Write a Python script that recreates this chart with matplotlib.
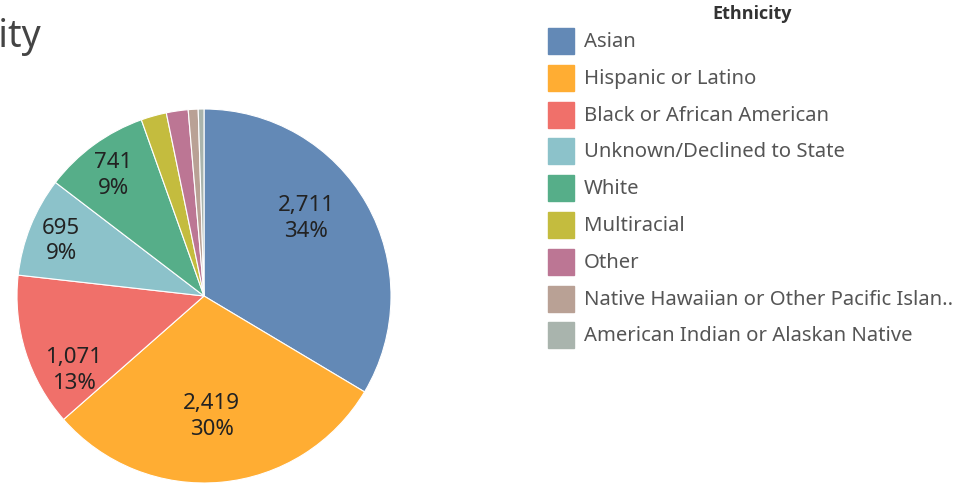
import matplotlib
matplotlib.use('Agg')
import matplotlib.pyplot as plt
import numpy as np

plt.rcParams['font.family'] = ['Noto Sans', 'DejaVu Sans']

# data
ethnicities = ['Asian', 'Hispanic or Latino', 'Black or African American',
               'Unknown/Declined to State', 'White', 'Multiracial', 'Other',
               'Native Hawaiian or Other Pacific Islan..',
               'American Indian or Alaskan Native']
counts = [2711, 2419, 1071, 695, 741, 178, 152, 69, 40]
colors = ['#6389b6', '#ffad33', '#f0706a', '#8cc2ca', '#56ae89',
          '#c4bc3e', '#bc7694', '#b9a195', '#a9b4ad']
show_label = [True, True, True, True, True, False, False, False, False]
# label placement inside each slice (radius fraction, angle shift in degrees)
label_r = [0.69, 0.64, 0.80, 0.82, 0.81, 0, 0, 0, 0]
label_shift = [8, -1.5, 12, 0.5, 0.7, 0, 0, 0, 0]

W, H = 974, 485
fig = plt.figure(figsize=(W / 100, H / 100), dpi=100)

# pie: centre (204, 297) px, radius 187 px
cx, cy, r = 204, 297, 187
ax = fig.add_axes([(cx - r) / W, (H - cy - r) / H, 2 * r / W, 2 * r / H])
wedges, _ = ax.pie(counts, colors=colors, startangle=90, counterclock=False,
                   radius=1, wedgeprops=dict(linewidth=0.8, edgecolor='white'))
ax.set_xlim(-1, 1)
ax.set_ylim(-1, 1)
ax.set_aspect('equal')
ax.axis('off')

total = sum(counts)
for w, n, show, lr, sh in zip(wedges, counts, show_label, label_r, label_shift):
    if not show:
        continue
    mid = np.deg2rad((w.theta1 + w.theta2) / 2 + sh)
    ax.text(lr * np.cos(mid), lr * np.sin(mid),
            f"{n:,}\n{round(100 * n / total)}%",
            ha='center', va='center', fontsize=16, color='#222222',
            linespacing=1.3)

# title: the original is cut so only "ity" shows at the left edge
title_size = 27
renderer = fig.canvas.get_renderer()
probe = fig.text(0, 0, 'Ethnic', fontsize=title_size)
hidden_w = probe.get_window_extent(renderer).width
probe.remove()
fig.text((-hidden_w - 1) / W, 1 - 37 / H, 'Ethnicity', ha='left', va='center',
         fontsize=title_size, color='#444444')

# legend
fig.text(752 / W, 1 - 14 / H, 'Ethnicity', ha='center', va='center',
         fontsize=13, fontweight='bold', family=['Open Sans', 'DejaVu Sans'],
         color='#333333')
y0, dy = 42, 36.8
for i, (name, c) in enumerate(zip(ethnicities, colors)):
    y = y0 + i * dy
    fig.patches.append(plt.Rectangle((548 / W, 1 - (y + 13) / H), 26 / W, 26 / H,
                                     transform=fig.transFigure, color=c))
    fig.text(584 / W, 1 - y / H, name, ha='left', va='center',
             fontsize=14.6, color='#555555')

fig.savefig('out.png', dpi=100)
